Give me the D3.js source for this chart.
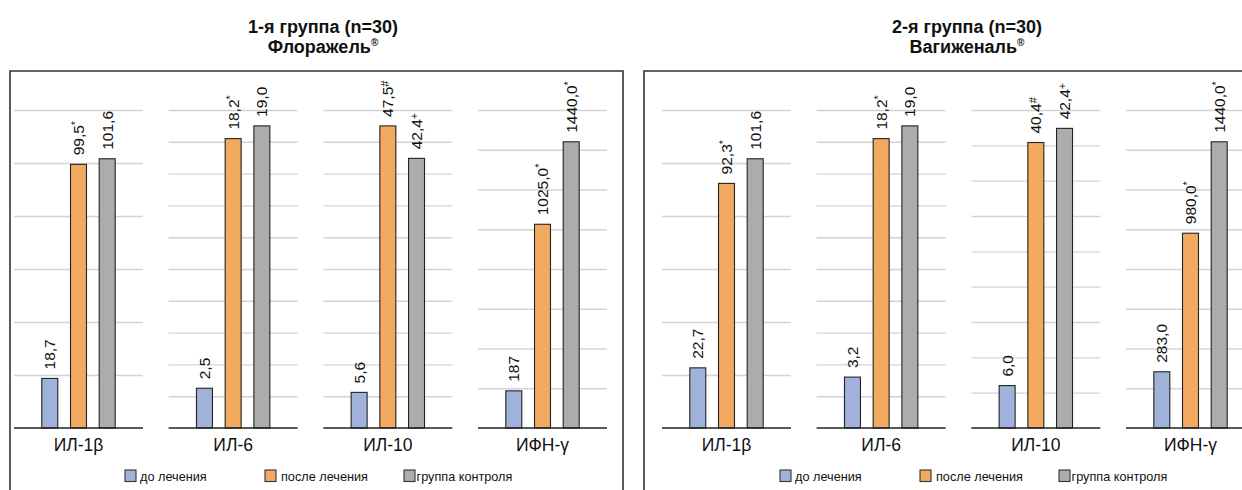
<!DOCTYPE html>
<html>
<head>
<meta http-equiv="Content-Type" content="text/html;charset=utf-8">
<script type="text/javascript" src="https://d3js.org/d3.v7.min.js"></script>
<style>
  body { margin: 0; background: #fff; }
  svg text { font-family: "Liberation Sans", Arial, sans-serif; fill: #111; }
</style>
</head>
<body>
<div id="chart"></div>
<script type="text/javascript">

// data
var categories = ["ИЛ-1β", "ИЛ-6", "ИЛ-10", "ИФН-γ"];
var seriesNames = ["до лечения", "после лечения", "группа контроля"];
var seriesColors = ["#a0b2d9", "#f2a960", "#acacac"];

var g1Before = [18.7, 2.5, 5.6, 187];
var g1After = [99.5, 18.2, 47.5, 1025.0];
var g1Control = [101.6, 19.0, 42.4, 1440.0];
var g1BeforeText = ["18,7", "2,5", "5,6", "187"];
var g1AfterText = ["99,5", "18,2", "47,5", "1025,0"];
var g1ControlText = ["101,6", "19,0", "42,4", "1440,0"];
var g1AfterMark = ["*", "*", "#", "*"];
var g1ControlMark = ["", "", "+", "*"];

var g2Before = [22.7, 3.2, 6.0, 283.0];
var g2After = [92.3, 18.2, 40.4, 980.0];
var g2Control = [101.6, 19.0, 42.4, 1440.0];
var g2BeforeText = ["22,7", "3,2", "6,0", "283,0"];
var g2AfterText = ["92,3", "18,2", "40,4", "980,0"];
var g2ControlText = ["101,6", "19,0", "42,4", "1440,0"];
var g2AfterMark = ["*", "*", "#", "*"];
var g2ControlMark = ["", "", "+", "*"];

// hidden value axis of each small chart
var g1AxisMax = [120, 20, 50, 1600];
var g2AxisMax = [120, 20, 45, 1600];
var gridStep = [20, 2, 5, 200];

var width = 1242, height = 490;

var svg = d3.select("#chart").append("svg")
    .attr("width", width)
    .attr("height", height);

function drawPanel(p) {
  var g = svg.append("g");

  // frame (open at the bottom, image is cut)
  g.append("path")
    .attr("d", "M" + p.boxLeft + "," + (height + 5) + "V71H" + p.boxRight + "V" + (height + 5))
    .attr("fill", "none")
    .attr("stroke", "#333")
    .attr("stroke-width", 1.6);

  // title
  var t = g.append("text")
    .attr("x", p.titleX)
    .attr("text-anchor", "middle")
    .style("font-weight", "bold")
    .style("font-size", "18px");
  t.append("tspan").attr("x", p.titleX).attr("y", 33).text(p.title1);
  t.append("tspan").attr("x", p.titleX).attr("y", 53).text(p.title2);
  t.append("tspan").attr("dy", -7).style("font-size", "10px").text("®");

  var x0 = d3.scaleBand()
      .domain(categories)
      .range([p.x0, p.x0 + 593])
      .paddingInner(0.166)
      .paddingOuter(0);

  var x1 = d3.scaleBand()
      .domain(d3.range(3))
      .range([0, x0.bandwidth()])
      .paddingInner(0.443)
      .paddingOuter(0.969);

  var base = 428, top = 110;

  categories.forEach(function (cat, i) {
    var y = d3.scaleLinear().domain([0, p.axisMax[i]]).range([base, top]);
    var sub = g.append("g").attr("transform", "translate(" + x0(cat) + ",0)");

    // gridlines
    var ticks = y.ticks(p.axisMax[i] / gridStep[i]).filter(function (v) { return v > 0; });
    var grid = sub.append("g")
        .call(d3.axisLeft(y).tickValues(ticks).tickSize(-x0.bandwidth()).tickFormat(""));
    grid.select(".domain").remove();
    grid.selectAll("line").attr("stroke", "#d4d4d4").attr("stroke-width", 1.4);

    var vals = [p.before[i], p.after[i], p.control[i]];
    var texts = [p.beforeText[i], p.afterText[i], p.controlText[i]];
    var marks = ["", p.afterMark[i], p.controlMark[i]];

    sub.selectAll("rect")
      .data(vals)
      .enter().append("rect")
      .attr("x", function (d, j) { return x1(j); })
      .attr("y", function (d) { return y(d); })
      .attr("width", x1.bandwidth())
      .attr("height", function (d) { return base - y(d); })
      .attr("fill", function (d, j) { return seriesColors[j]; })
      .attr("stroke", "#222")
      .attr("stroke-width", 1.1);

    // baseline
    sub.append("line")
      .attr("x1", 0).attr("x2", x0.bandwidth())
      .attr("y1", base).attr("y2", base)
      .attr("stroke", "#222")
      .attr("stroke-width", 1.6);

    var lab = sub.selectAll(".val")
      .data(vals)
      .enter().append("text")
      .attr("class", "val")
      .attr("transform", function (d, j) {
        return "translate(" + (x1(j) + x1.bandwidth() / 2) + "," + (y(d) - 9) + ") rotate(-90)";
      })
      .attr("dy", "0.36em")
      .style("font-size", "15.5px");
    lab.append("tspan").text(function (d, j) { return texts[j]; });
    lab.append("tspan")
      .attr("dy", "-0.42em")
      .style("font-size", "11px")
      .text(function (d, j) { return marks[j]; });
  });

  // category labels
  var ax = g.append("g")
      .attr("transform", "translate(0," + base + ")")
      .call(d3.axisBottom(x0).tickSize(0).tickPadding(11));
  ax.select(".domain").remove();
  ax.selectAll("text")
    .style("font-size", "17.5px")
    .style("font-family", "'Liberation Sans', Arial, sans-serif")
    .attr("fill", "#111");

  // legend
  var legX = [p.legendX, p.legendX + 140, p.legendX + 279];
  var legGap = [4, 5, 1.5];
  var leg = g.selectAll(".leg")
    .data(seriesNames)
    .enter().append("g")
    .attr("class", "leg")
    .attr("transform", function (d, j) { return "translate(" + legX[j] + ",470)"; });
  leg.append("rect")
    .attr("width", 11).attr("height", 11.5)
    .attr("fill", function (d, j) { return seriesColors[j]; })
    .attr("stroke", "#333")
    .attr("stroke-width", 1.1);
  leg.append("text")
    .attr("x", function (d, j) { return 11 + legGap[j]; })
    .attr("y", 10.5)
    .style("font-size", "12.7px")
    .text(function (d) { return d; });
}

drawPanel({
  boxLeft: 10, boxRight: 623, x0: 14, titleX: 323, legendX: 125,
  title1: "1-я группа (n=30)", title2: "Флоражель",
  axisMax: g1AxisMax,
  before: g1Before, after: g1After, control: g1Control,
  beforeText: g1BeforeText, afterText: g1AfterText, controlText: g1ControlText,
  afterMark: g1AfterMark, controlMark: g1ControlMark
});

drawPanel({
  boxLeft: 644, boxRight: 1260, x0: 662, titleX: 967, legendX: 780,
  title1: "2-я группа (n=30)", title2: "Вагиженаль",
  axisMax: g2AxisMax,
  before: g2Before, after: g2After, control: g2Control,
  beforeText: g2BeforeText, afterText: g2AfterText, controlText: g2ControlText,
  afterMark: g2AfterMark, controlMark: g2ControlMark
});

</script>
</body>
</html>
